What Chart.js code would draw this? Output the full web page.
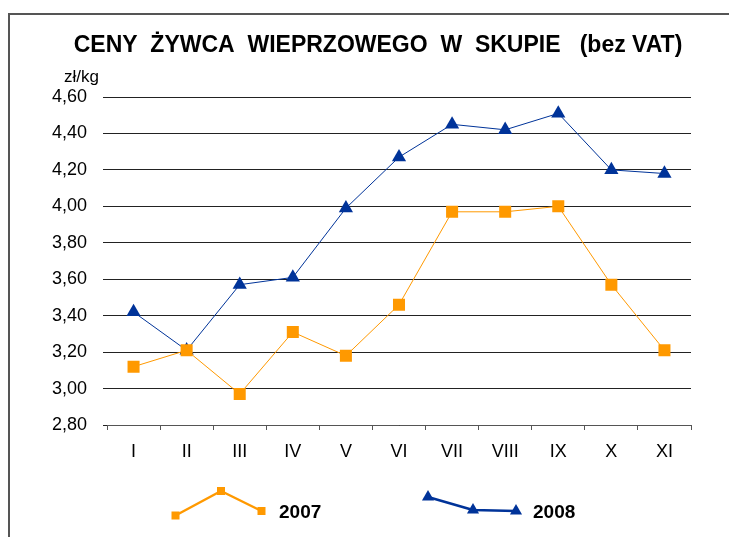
<!DOCTYPE html>
<html><head><meta charset="utf-8">
<script src="https://cdn.jsdelivr.net/npm/chart.js@4/dist/chart.umd.min.js"></script>
<style>html,body{margin:0;padding:0;background:#fff}</style>
</head><body>
<canvas id="c" width="729" height="537" style="width:729px;height:537px;display:block"></canvas>
<script>
const months = ['I','II','III','IV','V','VI','VII','VIII','IX','X','XI'];
const prices2007 = [3.12, 3.21, 2.97, 3.31, 3.18, 3.46, 3.97, 3.97, 4.00, 3.57, 3.21];
const prices2008 = [3.42, 3.21, 3.57, 3.61, 3.99, 4.27, 4.45, 4.42, 4.51, 4.20, 4.18];
const seriesNames = ['2007', '2008'];
const yMin = 2.8, yMax = 4.6, yStep = 0.2;
const titleText = 'CENY  ŻYWCA  WIEPRZOWEGO  W  SKUPIE   (bez VAT)';
const unitText = 'zł/kg';

const ORANGE = '#FF9900';
const BLUE = '#003399';
const FONT = '"Liberation Sans", Arial, sans-serif';

const decor = {
  id: 'decor',
  beforeDraw(chart) {
    const ctx = chart.ctx;
    ctx.save();
    ctx.fillStyle = '#fff';
    ctx.fillRect(0, 0, chart.width, chart.height);
    ctx.strokeStyle = '#555';
    ctx.lineWidth = 2;
    ctx.beginPath();
    ctx.moveTo(9, 537);
    ctx.lineTo(9, 14);
    ctx.lineTo(729, 14);
    ctx.stroke();
    ctx.restore();
  },
  afterDraw(chart) {
    const ctx = chart.ctx;
    ctx.save();
    ctx.fillStyle = '#000';
    ctx.textBaseline = 'middle';
    ctx.textAlign = 'center';
    ctx.font = 'bold 23px ' + FONT;
    ctx.fillText(titleText, 378, 46);
    ctx.font = '17px ' + FONT;
    ctx.textAlign = 'left';
    ctx.fillText(unitText, 64, 77);

    // legend
    const drawSquare = (x, y, s) => { ctx.fillStyle = ORANGE; ctx.fillRect(x - s/2, y - s/2, s, s); };
    const drawTri = (x, y, r) => {
      ctx.fillStyle = BLUE; ctx.beginPath();
      ctx.moveTo(x, y - r); ctx.lineTo(x + r*0.866, y + r/2); ctx.lineTo(x - r*0.866, y + r/2); ctx.closePath(); ctx.fill();
    };
    const o = [[175.5,515.5],[221,491],[261.5,511]];
    ctx.strokeStyle = ORANGE; ctx.lineWidth = 2.5; ctx.lineJoin = 'round';
    ctx.beginPath(); ctx.moveTo(o[0][0], o[0][1]); ctx.lineTo(o[1][0], o[1][1]); ctx.lineTo(o[2][0], o[2][1]); ctx.stroke();
    o.forEach(p => drawSquare(p[0], p[1], 8));
    const b = [[428,497],[473,510],[516,511]];
    ctx.strokeStyle = BLUE; ctx.lineWidth = 2.5;
    ctx.beginPath(); ctx.moveTo(b[0][0], b[0][1]); ctx.lineTo(b[1][0], b[1][1]); ctx.lineTo(b[2][0], b[2][1]); ctx.stroke();
    b.forEach(p => drawTri(p[0], p[1], 7));
    ctx.fillStyle = '#000';
    ctx.font = 'bold 19px ' + FONT;
    ctx.textAlign = 'left';
    ctx.fillText(seriesNames[0], 279, 513);
    ctx.fillText(seriesNames[1], 533, 513);
    ctx.restore();
  }
};

new Chart(document.getElementById('c'), {
  type: 'line',
  data: {
    labels: months,
    datasets: [
      {
        label: seriesNames[0], data: prices2007,
        borderColor: ORANGE, backgroundColor: ORANGE, borderWidth: 1,
        pointStyle: 'rect', pointRadius: 8.5, pointBorderWidth: 0, pointHoverRadius: 8.5,
        tension: 0, fill: false
      },
      {
        label: seriesNames[1], data: prices2008,
        borderColor: BLUE, backgroundColor: BLUE, borderWidth: 1,
        pointStyle: 'triangle', pointRadius: 8.2, pointBorderWidth: 0, pointHoverRadius: 8.2,
        tension: 0, fill: false
      }
    ]
  },
  options: {
    responsive: false,
    animation: false,
    events: [],
    layout: { padding: { top: 97, right: 38, bottom: 72, left: 0 } },
    plugins: { legend: { display: false }, title: { display: false }, tooltip: { enabled: false } },
    scales: {
      x: {
        offset: true,
        grid: { display: true, drawOnChartArea: false, drawTicks: true, tickLength: 5, offset: true, color: '#555' },
        border: { display: true, color: '#555', width: 1 },
        ticks: { color: '#000', font: { family: FONT, size: 18 }, padding: 11, maxRotation: 0, autoSkip: false },
        afterFit(s) { s.height = 40; }
      },
      y: {
        min: yMin, max: yMax,
        grid: { color: '#222', lineWidth: 1, drawTicks: true, tickLength: 4 },
        border: { display: false },
        ticks: {
          stepSize: yStep, color: '#000', font: { family: FONT, size: 18 }, padding: 16,
          callback: v => v.toFixed(2).replace('.', ',')
        },
        afterFit(s) { s.width = 107; }
      }
    }
  },
  plugins: [decor]
});
</script>
</body></html>
